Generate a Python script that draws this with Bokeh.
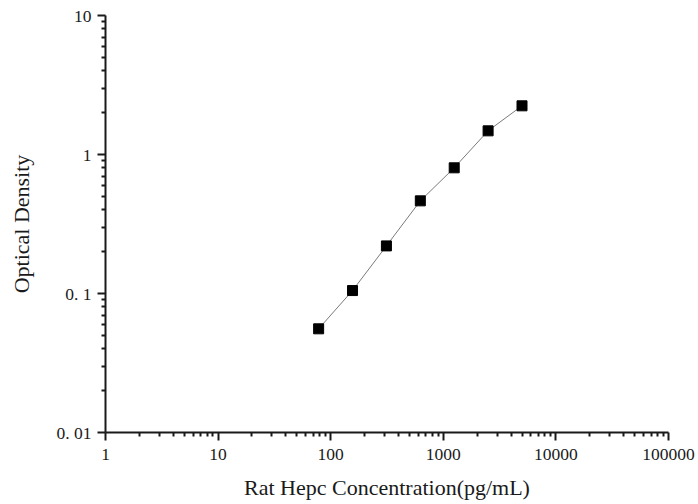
from bokeh.plotting import figure
from bokeh.models import ColumnDataSource, Range1d, FixedTicker
from bokeh.embed import file_html
from bokeh.resources import INLINE

concentration = [78.125, 156.25, 312.5, 625, 1250, 2500, 5000]
optical_density = [0.0557, 0.105, 0.220, 0.464, 0.802, 1.48, 2.24]
x_ticks = [1, 10, 100, 1000, 10000, 100000]
x_tick_labels = ["1", "10", "100", "1000", "10000", "100000"]
y_ticks = [0.01, 0.1, 1, 10]
y_tick_labels = ["0. 01", "0. 1", "1", "10"]

FONT = "Liberation Serif"

src = ColumnDataSource(dict(x=concentration, y=optical_density))

p = figure(width=698, height=504, x_axis_type="log", y_axis_type="log",
           x_range=Range1d(1, 100000), y_range=Range1d(0.01, 10),
           output_backend="svg", toolbar_location=None,
           min_border_left=105, min_border_right=30, min_border_top=15, min_border_bottom=72)
p.outline_line_color = None
p.grid.visible = False
p.background_fill_color = "white"

p.line("x", "y", source=src, line_color="#7a7a7a", line_width=1)
p.scatter("x", "y", source=src, marker="square", size=10, fill_color="black", line_color="black")

for ax, ticks, labels in ((p.xaxis[0], x_ticks, x_tick_labels), (p.yaxis[0], y_ticks, y_tick_labels)):
    minors = []
    for t in ticks[:-1]:
        minors += [t * k for k in range(2, 10)]
    ax.ticker = FixedTicker(ticks=ticks, minor_ticks=minors)
    ax.major_label_overrides = {t: l for t, l in zip(ticks, labels)}
    ax.axis_line_color = "#1a1a1a"
    ax.axis_line_width = 2
    ax.major_tick_line_color = "#1a1a1a"
    ax.minor_tick_line_color = "#1a1a1a"
    ax.major_tick_line_width = 2
    ax.minor_tick_line_width = 2
    ax.major_tick_out = 8
    ax.major_tick_in = 0
    ax.minor_tick_out = 4
    ax.minor_tick_in = 0
    ax.major_label_text_font = FONT
    ax.major_label_text_font_size = "17.5px"
    ax.major_label_text_color = "#1a1a1a"
    ax.axis_label_text_font = FONT
    ax.axis_label_text_font_size = "22px"
    ax.axis_label_text_font_style = "normal"
    ax.axis_label_text_color = "#1a1a1a"

p.xaxis.axis_label = "Rat Hepc Concentration(pg/mL)"
p.yaxis.axis_label = "Optical Density"
p.xaxis.major_label_standoff = 8
p.xaxis.axis_label_standoff = 12
p.yaxis.major_label_standoff = 6
p.yaxis.axis_label_standoff = 20

open("out.html", "w").write(file_html(p, INLINE))
